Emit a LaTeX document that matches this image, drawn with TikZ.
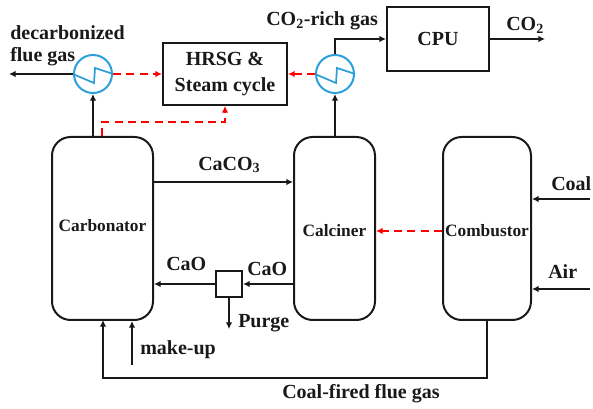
\documentclass[tikz,border=0pt]{standalone}
\usepackage{fontspec}
\setmainfont{Liberation Serif}
\usetikzlibrary{arrows.meta}
\definecolor{hxblue}{RGB}{45,160,220}
\definecolor{dk}{RGB}{25,25,25}
\tikzset{
 vessel/.style={draw=dk,line width=1.5pt,rounded corners=14pt,inner sep=0pt},
 unitbox/.style={draw=dk,line width=1.5pt,inner sep=0pt},
 hx/.style={circle,draw=hxblue,line width=1.5pt,minimum size=38*0.75pt,inner sep=0pt},
 flow/.style={draw=dk,line width=1.5pt,-{Latex[length=5pt,width=5pt]}},
 heat/.style={draw=red,line width=1.5pt,dash pattern=on 6pt off 4pt,-{Latex[length=5pt,width=5pt]}},
 lbl/.style={font=\fontsize{15}{17}\selectfont\bfseries,text=dk,inner sep=0pt,align=left},
 sml/.style={font=\fontsize{13}{15}\selectfont\bfseries,text=dk,inner sep=0pt}
}
\begin{document}
\begin{tikzpicture}[x=0.75pt,y=-0.75pt]
\useasboundingbox (0,0) rectangle (593,409);
\node[vessel,minimum width=101*0.75pt,minimum height=183*0.75pt] (carb) at (102.5,228.5) {};
\node[sml] (carbt) at (102.5,226) {Carbonator};
\node[vessel,minimum width=81*0.75pt,minimum height=183*0.75pt] (calc) at (334.5,228.5) {};
\node[sml] (calct) at (334.5,231) {Calciner};
\node[vessel,minimum width=88*0.75pt,minimum height=183*0.75pt] (comb) at (487,228.5) {};
\node[sml] (combt) at (487,231) {Combustor};
\node[unitbox,minimum width=124*0.75pt,minimum height=62*0.75pt,lbl,align=center] (hrsg) at (225,74) {HRSG \&\\[2pt]Steam cycle};
\node[unitbox,minimum width=102*0.75pt,minimum height=64*0.75pt,lbl] (cpu) at (438,39) {CPU};
\node[unitbox,minimum width=26*0.75pt,minimum height=26*0.75pt] (split) at (229,284) {};
\node[hx] (hxa) at (93,74) {};
\node[hx] (hxb) at (335,74) {};
\draw[hxblue,line width=1.3pt] (hxa.west) -- ++(21,9) -- ++(1,-15) -- (hxa.east);
\draw[hxblue,line width=1.3pt] (hxb.west) -- ++(21,9) -- ++(1,-15) -- (hxb.east);
\coordinate (outa) at (9,74);
\coordinate (outco) at (545,39);
\coordinate (coalin) at (590,199);
\coordinate (airin) at (590,289);
\coordinate (mk) at (132,365);
\coordinate (pg) at (229,329);
\coordinate (fgb) at (487,378);
\coordinate (ha) at (102,122);
\draw[flow] (hxa.west) -- (outa);
\draw[flow] (hxa.south |- carb.north) -- (hxa.south);
\draw[flow] (hxb.south |- calc.north) -- (hxb.south);
\draw[flow] (hxb.north) |- (hxb.north |- cpu.west) -- (cpu.west);
\draw[flow] (cpu.east) -- (outco);
\draw[flow] (carb.east |- 0,182) -- (calc.west |- 0,182);
\draw[flow] (coalin) -- (comb.east |- coalin);
\draw[flow] (airin) -- (comb.east |- airin);
\draw[flow] (calc.west |- split) -- (split.east);
\draw[flow] (split.west) -- (carb.east |- split);
\draw[flow] (split.south) -- (pg);
\draw[flow] (mk) -- (mk |- carb.south);
\draw[flow] (comb.south) -- (fgb) -| (103,320);
\draw[heat] (hxa.east) -- (hrsg.west |- hxa);
\draw[heat] (hxb.west) -- (hrsg.east |- hxb);
\draw[heat] (comb.west |- 0,231) -- (calc.east |- 0,231);
\draw[heat] (ha |- carb.north) -- (ha) -| (hrsg.south);
\node[lbl,anchor=west] (t1) at (10,33) {decarbonized};
\node[lbl,anchor=west] (t2) at (10,57) {flue gas};
\node[lbl,anchor=west] (t3) at (266,21) {CO$_{\mathbf 2}$-rich gas};
\node[lbl,anchor=west] (t4) at (506,25) {CO$_{\mathbf 2}$};
\node[lbl,anchor=west] (t5) at (198,165) {CaCO$_{\mathbf 3}$};
\node[lbl,anchor=west] (t6) at (551,184) {Coal};
\node[lbl,anchor=west] (t7) at (548,272) {Air};
\node[lbl,anchor=west] (t8) at (166,264) {CaO};
\node[lbl,anchor=west] (t9) at (247,269) {CaO};
\node[lbl,anchor=west] (t10) at (238,323) {Purge};
\node[lbl,anchor=west] (t11) at (140,350) {make-up};
\node[lbl,anchor=west] (t12) at (282,394) {Coal-fired flue gas};
\end{tikzpicture}
\end{document}
